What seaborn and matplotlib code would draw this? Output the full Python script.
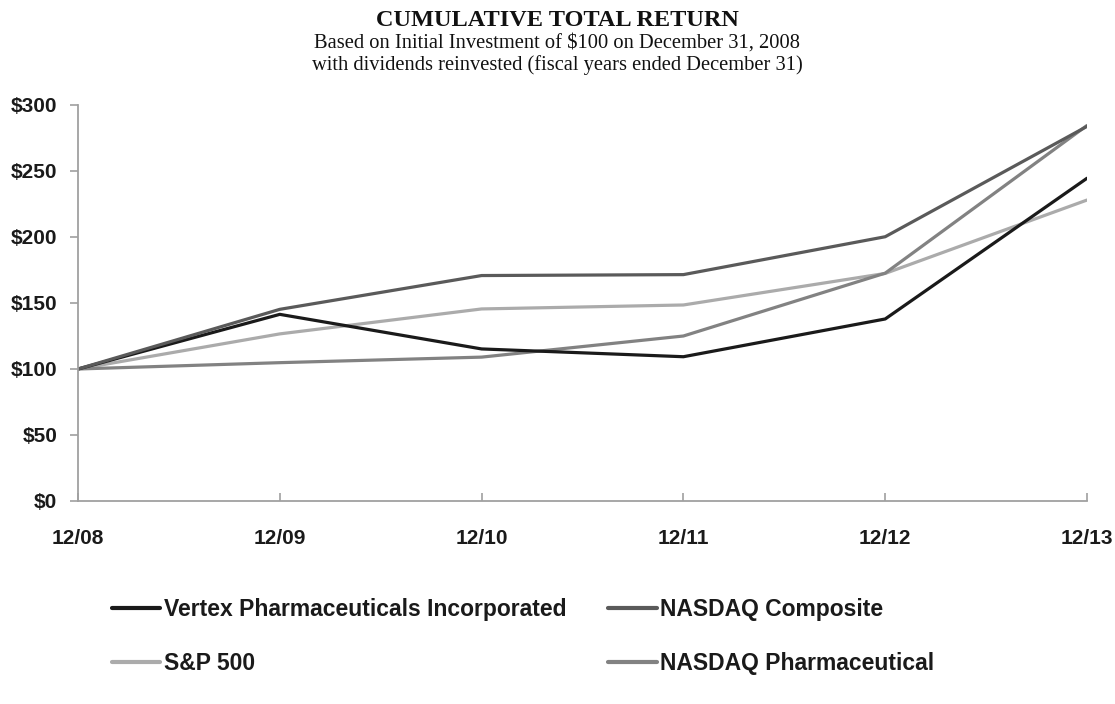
import matplotlib
matplotlib.use("Agg")
import matplotlib.pyplot as plt
from matplotlib.lines import Line2D
import seaborn as sns
import pandas as pd

# ---- data ----
years = ["12/08", "12/09", "12/10", "12/11", "12/12", "12/13"]
vertex = [100, 141.4, 115.2, 109.3, 137.9, 244.5]
nasdaq_composite = [100, 145.2, 170.8, 171.5, 200.2, 283.8]
sp500 = [100, 126.6, 145.5, 148.5, 172.4, 228.0]
nasdaq_pharma = [100, 104.8, 109.0, 125.0, 172.6, 284.5]
series_names = ["Vertex Pharmaceuticals Incorporated", "NASDAQ Composite",
                "S&P 500", "NASDAQ Pharmaceutical"]
y_ticks = [0, 50, 100, 150, 200, 250, 300]
y_tick_labels = ["$0", "$50", "$100", "$150", "$200", "$250", "$300"]

colors = {"Vertex Pharmaceuticals Incorporated": "#1a1a1a",
          "NASDAQ Composite": "#5a5a5a",
          "S&P 500": "#ababab",
          "NASDAQ Pharmaceutical": "#828282"}

rows = []
for name, vals in zip(series_names, [vertex, nasdaq_composite, sp500, nasdaq_pharma]):
    for yr, v in zip(years, vals):
        rows.append({"year": yr, "value": v, "series": name})
df = pd.DataFrame(rows)

sns.set_theme(style="white")
plt.rcParams["font.family"] = ["Liberation Sans", "DejaVu Sans"]

W, H = 1115, 704
fig = plt.figure(figsize=(W / 100, H / 100), dpi=100)
ax = fig.add_axes([78 / W, 1 - 501 / H, (1087 - 78) / W, (501 - 105) / H])

draw_order = ["S&P 500", "NASDAQ Pharmaceutical", "Vertex Pharmaceuticals Incorporated", "NASDAQ Composite"]
sns.lineplot(data=df, x="year", y="value", hue="series", hue_order=draw_order,
             palette=colors, linewidth=2.3, ax=ax, legend=False, sort=False)

ax.set_xlim(0, len(years) - 1)
ax.set_ylim(0, 300)
ax.set_yticks(y_ticks)
ax.set_yticklabels(y_tick_labels)
ax.set_xlabel("")
ax.set_ylabel("")

for s in ["top", "right"]:
    ax.spines[s].set_visible(False)
for s in ["left", "bottom"]:
    ax.spines[s].set_color("#a0a0a0")
    ax.spines[s].set_linewidth(1.3)

ax.tick_params(axis="y", direction="out", length=6, width=1.2, color="#a0a0a0",
               pad=9, labelsize=15, labelcolor="#1a1a1a", left=True)
ax.tick_params(axis="x", direction="in", length=6, width=1.2, color="#a0a0a0",
               pad=20, labelsize=15, labelcolor="#1a1a1a", bottom=True)
for lab in ax.get_xticklabels() + ax.get_yticklabels():
    lab.set_fontweight("bold")

# titles
serif = ["Liberation Serif", "DejaVu Serif"]
fig.text(0.5, 1 - 20 / H, "CUMULATIVE TOTAL RETURN", ha="center", va="center",
         family=serif, fontweight="bold", fontsize=17.5, color="#111111")
fig.text(0.5, 1 - 43 / H, "Based on Initial Investment of $100 on December 31, 2008",
         ha="center", va="center", family=serif, fontsize=14.8, color="#111111")
fig.text(0.5, 1 - 65 / H, "with dividends reinvested (fiscal years ended December 31)",
         ha="center", va="center", family=serif, fontsize=14.8, color="#111111")

legend_order = ["Vertex Pharmaceuticals Incorporated", "S&P 500",
                "NASDAQ Composite", "NASDAQ Pharmaceutical"]
handles = [Line2D([], [], color=colors[n], linewidth=3) for n in legend_order]
leg = fig.legend(handles, legend_order, loc="upper left", bbox_to_anchor=(112 / W, 1 - 598 / H),
                 ncol=2, frameon=False, handlelength=2.1, handletextpad=0.15,
                 columnspacing=1.85, labelspacing=1.35, borderaxespad=0, borderpad=0,
                 prop={"family": ["Liberation Sans", "DejaVu Sans"], "weight": "bold", "size": 16.5})
for t in leg.get_texts():
    t.set_color("#1a1a1a")

fig.savefig("out.png", dpi=100)
